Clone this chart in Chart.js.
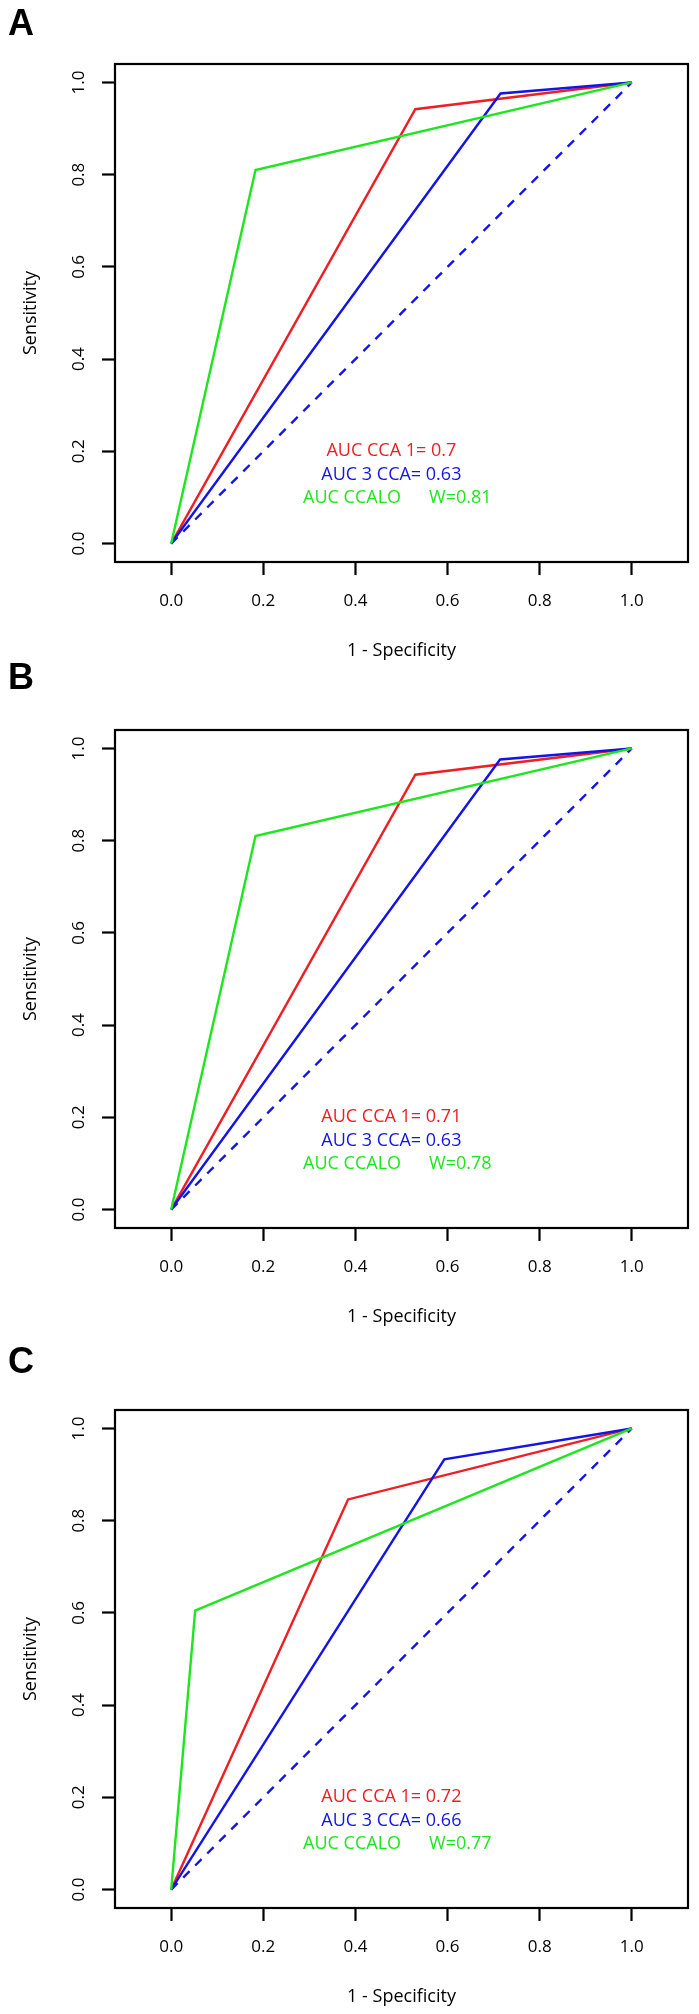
<!DOCTYPE html>
<html>
<head>
<meta charset="utf-8">
<script src="https://cdn.jsdelivr.net/npm/chart.js@4.4.1/dist/chart.umd.min.js"></script>
<style>
  body { margin: 0; background: #fff; width: 699px; height: 2014px; position: relative; overflow: hidden; }
  .panel { position: absolute; left: 0; width: 699px; }
</style>
</head>
<body>
<div class="panel" style="top:0px"><canvas id="chartA" width="699" height="668"></canvas></div>
<div class="panel" style="top:640px"><canvas id="chartB" width="699" height="694"></canvas></div>
<div class="panel" style="top:1320px"><canvas id="chartC" width="699" height="694"></canvas></div>
<script>
// tick values on both axes
const xTicks = [0, 0.2, 0.4, 0.6, 0.8, 1.0];
const yTicks = [0, 0.2, 0.4, 0.6, 0.8, 1.0];

// chance line
const diagX = [0, 1];
const diagY = [0, 1];

// Panel A  (x = 1 - specificity, y = sensitivity)
const redA_x = [0, 0.53, 1];
const redA_y = [0, 0.942, 1];
const blueA_x = [0, 0.715, 1];
const blueA_y = [0, 0.976, 1];
const greenA_x = [0, 0.183, 1];
const greenA_y = [0, 0.81, 1];
const aucA = ["AUC CCA 1= 0.7", "AUC 3 CCA= 0.63", "AUC CCALO      W=0.81"];

// Panel B
const redB_x = [0, 0.53, 1];
const redB_y = [0, 0.943, 1];
const blueB_x = [0, 0.714, 1];
const blueB_y = [0, 0.976, 1];
const greenB_x = [0, 0.183, 1];
const greenB_y = [0, 0.81, 1];
const aucB = ["AUC CCA 1= 0.71", "AUC 3 CCA= 0.63", "AUC CCALO      W=0.78"];

// Panel C
const redC_x = [0, 0.384, 1];
const redC_y = [0, 0.846, 1];
const blueC_x = [0, 0.593, 1];
const blueC_y = [0, 0.933, 1];
const greenC_x = [0, 0.052, 1];
const greenC_y = [0, 0.605, 1];
const aucC = ["AUC CCA 1= 0.72", "AUC 3 CCA= 0.66", "AUC CCALO      W=0.77"];

const RED = "#f01e23";
const BLUE = "#1414e6";
const GREEN = "#1ee61e";

function pts(xs, ys) {
  return xs.map((x, i) => ({ x: x, y: ys[i] }));
}

// box, rotated y labels, axis titles, AUC notes and panel letter
const rocDecor = {
  id: "rocDecor",
  afterDraw(chart, args, opts) {
    const ctx = chart.ctx;
    const a = chart.chartArea;
    const xs = chart.scales.x;
    const ys = chart.scales.y;
    ctx.save();
    ctx.strokeStyle = "#000";
    ctx.lineWidth = 2.2;
    ctx.strokeRect(a.left, a.top, a.right - a.left, a.bottom - a.top);

    ctx.fillStyle = "#000";
    ctx.textAlign = "center";
    ctx.textBaseline = "middle";
    ctx.font = '17px "Open Sans"';
    yTicks.forEach((v) => {
      ctx.save();
      ctx.translate(79, ys.getPixelForValue(v));
      ctx.rotate(-Math.PI / 2);
      ctx.fillText(v.toFixed(1), 0, 0);
      ctx.restore();
    });

    ctx.font = '18px "Open Sans"';
    ctx.fillText("1 - Specificity", (a.left + a.right) / 2, a.bottom + 89);
    ctx.save();
    ctx.translate(31, (a.top + a.bottom) / 2);
    ctx.rotate(-Math.PI / 2);
    ctx.fillText("Sensitivity", 0, 0);
    ctx.restore();

    const noteX = [0.478, 0.478, 0.491];
    const noteY = [0.2, 0.15, 0.1];
    const noteC = [RED, BLUE, GREEN];
    opts.notes.forEach((t, i) => {
      ctx.fillStyle = noteC[i];
      ctx.fillText(t, xs.getPixelForValue(noteX[i]), ys.getPixelForValue(noteY[i]));
    });

    ctx.fillStyle = "#000";
    ctx.font = 'bold 36px "Liberation Sans"';
    ctx.fillText(opts.letter, 21, opts.letterY);
    ctx.restore();
  }
};

function makeRoc(id, padTop, red, blue, green, notes, letter, letterY) {
  const line = (data, color, order, dash) => ({
    data: data,
    borderColor: color,
    borderWidth: 2.4,
    borderDash: dash || [],
    pointRadius: 0,
    tension: 0,
    fill: false,
    order: order
  });
  return new Chart(document.getElementById(id).getContext("2d"), {
    type: "line",
    data: {
      datasets: [
        line(pts(diagX, diagY), BLUE, 4, [9, 8]),
        line(red, RED, 3),
        line(blue, BLUE, 2),
        line(green, GREEN, 1)
      ]
    },
    options: {
      responsive: false,
      animation: false,
      devicePixelRatio: 1,
      layout: { padding: { top: padTop, right: 11, left: 0, bottom: 0 } },
      scales: {
        x: {
          type: "linear",
          min: -0.122,
          max: 1.122,
          afterBuildTicks: (s) => { s.ticks = xTicks.map((v) => ({ value: v })); },
          afterFit: (s) => { s.height = 106; },
          grid: { drawOnChartArea: false, drawTicks: true, tickLength: 13, tickColor: "#000", tickWidth: 2.2 },
          border: { display: false },
          ticks: {
            padding: 16,
            color: "#000",
            maxRotation: 0,
            font: { family: "Open Sans", size: 17 },
            callback: (v) => Number(v).toFixed(1)
          }
        },
        y: {
          type: "linear",
          min: -0.04,
          max: 1.04,
          afterBuildTicks: (s) => { s.ticks = yTicks.map((v) => ({ value: v })); },
          afterFit: (s) => { s.width = 115; },
          grid: { drawOnChartArea: false, drawTicks: true, tickLength: 13, tickColor: "#000", tickWidth: 2.2 },
          border: { display: false },
          ticks: { display: false }
        }
      },
      plugins: {
        legend: { display: false },
        tooltip: { enabled: false },
        rocDecor: { notes: notes, letter: letter, letterY: letterY }
      }
    },
    plugins: [rocDecor]
  });
}

makeRoc("chartA", 64, pts(redA_x, redA_y), pts(blueA_x, blueA_y), pts(greenA_x, greenA_y), aucA, "A", 25);
makeRoc("chartB", 90, pts(redB_x, redB_y), pts(blueB_x, blueB_y), pts(greenB_x, greenB_y), aucB, "B", 39);
makeRoc("chartC", 90, pts(redC_x, redC_y), pts(blueC_x, blueC_y), pts(greenC_x, greenC_y), aucC, "C", 43);
</script>
</body>
</html>
